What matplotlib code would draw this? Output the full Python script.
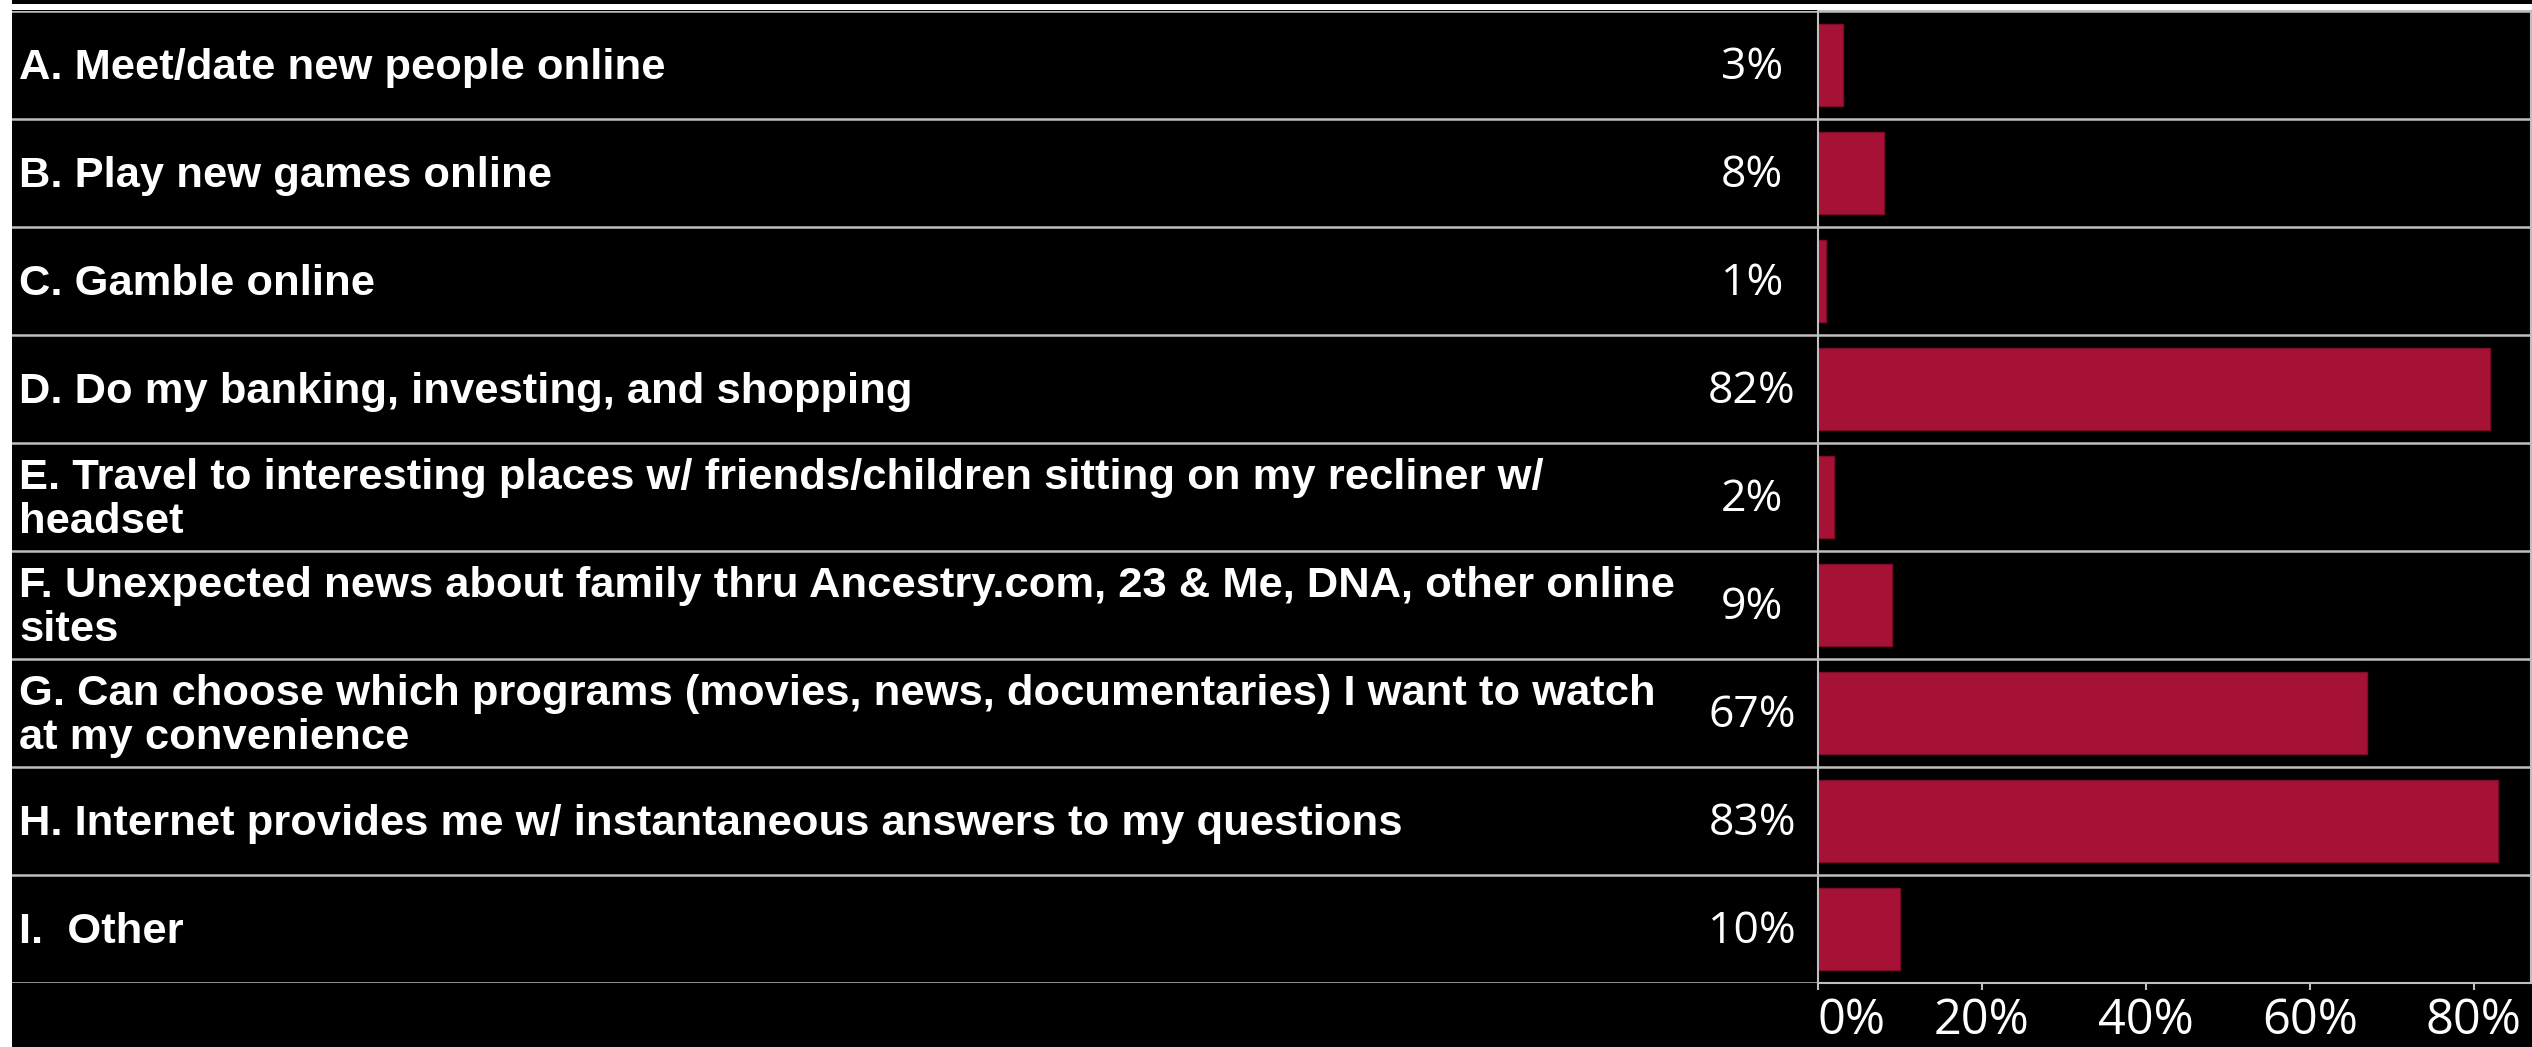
import matplotlib
matplotlib.use("Agg")
import matplotlib.pyplot as plt
from matplotlib.patches import Rectangle
from matplotlib.lines import Line2D

# datos del grafico
categorias = [
    "A. Meet/date new people online",
    "B. Play new games online",
    "C. Gamble online",
    "D. Do my banking, investing, and shopping",
    "E. Travel to interesting places w/ friends/children sitting on my recliner w/\nheadset",
    "F. Unexpected news about family thru Ancestry.com, 23 & Me, DNA, other online\nsites",
    "G. Can choose which programs (movies, news, documentaries) I want to watch\nat my convenience",
    "H. Internet provides me w/ instantaneous answers to my questions",
    "I.  Other",
]
porcentajes = [3, 8, 1, 82, 2, 9, 67, 83, 10]
ticks_x = [0, 20, 40, 60, 80]
etiquetas_x = ["0%", "20%", "40%", "60%", "80%"]

W, H = 2532, 1047
fig = plt.figure(figsize=(W / 100, H / 100), dpi=100, facecolor="black")

gris = "#bfbfbf"
rojo = "#a51236"

# franja blanca a la izquierda y linea blanca arriba
fig.patches.append(Rectangle((0, 0), 12 / W, 1, transform=fig.transFigure,
                             facecolor="white", edgecolor="none", zorder=0))
fig.lines.append(Line2D([0, 1], [1 - 7 / H, 1 - 7 / H], transform=fig.transFigure,
                        color="white", lw=4.3))

y0 = 1 - 983 / H
y1 = 1 - 11 / H
x_eje = 1818 / W

# eje de etiquetas (izquierda)
ax_l = fig.add_axes([12 / W, y0, x_eje - 12 / W, y1 - y0], facecolor="black")
# eje de barras (derecha)
ax = fig.add_axes([x_eje, y0, 1 - x_eje - 1 / W, y1 - y0], facecolor="black")

n = len(categorias)
for a in (ax_l, ax):
    a.set_ylim(n - 0.5, -0.5)
    for k in range(n + 1):
        a.axhline(k - 0.5, color=gris, lw=1.8, zorder=1)

ax_l.set_xlim(0, 1)
ax_l.set_xticks([])
ax_l.set_yticks([])
for s in ax_l.spines.values():
    s.set_visible(False)

for i, (cat, val) in enumerate(zip(categorias, porcentajes)):
    ax_l.text(0.004, i + 0.03, cat, ha="left", va="center", color="white",
              fontsize=31.3, fontweight="bold", family="Liberation Sans",
              linespacing=1.12)
    ax_l.text(0.9635, i + 0.03, f"{val}%", ha="center", va="center", color="white",
              fontsize=32, family="Open Sans")

ax.barh(range(n), porcentajes, height=0.76, color=rojo, edgecolor="#7d0d28",
        lw=1, zorder=2)
ax.set_xlim(0, 87)
ax.set_yticks([])
ax.set_xticks(ticks_x)
ax.set_xticklabels(etiquetas_x, fontsize=35, color="white", family="Open Sans")
ax.get_xticklabels()[0].set_ha("left")
ax.tick_params(axis="x", colors=gris, labelcolor="white", length=5, width=1.5, pad=5)
for s in ax.spines.values():
    s.set_color(gris)
    s.set_linewidth(1.5)

fig.savefig("out.png", dpi=100, facecolor=fig.get_facecolor())
